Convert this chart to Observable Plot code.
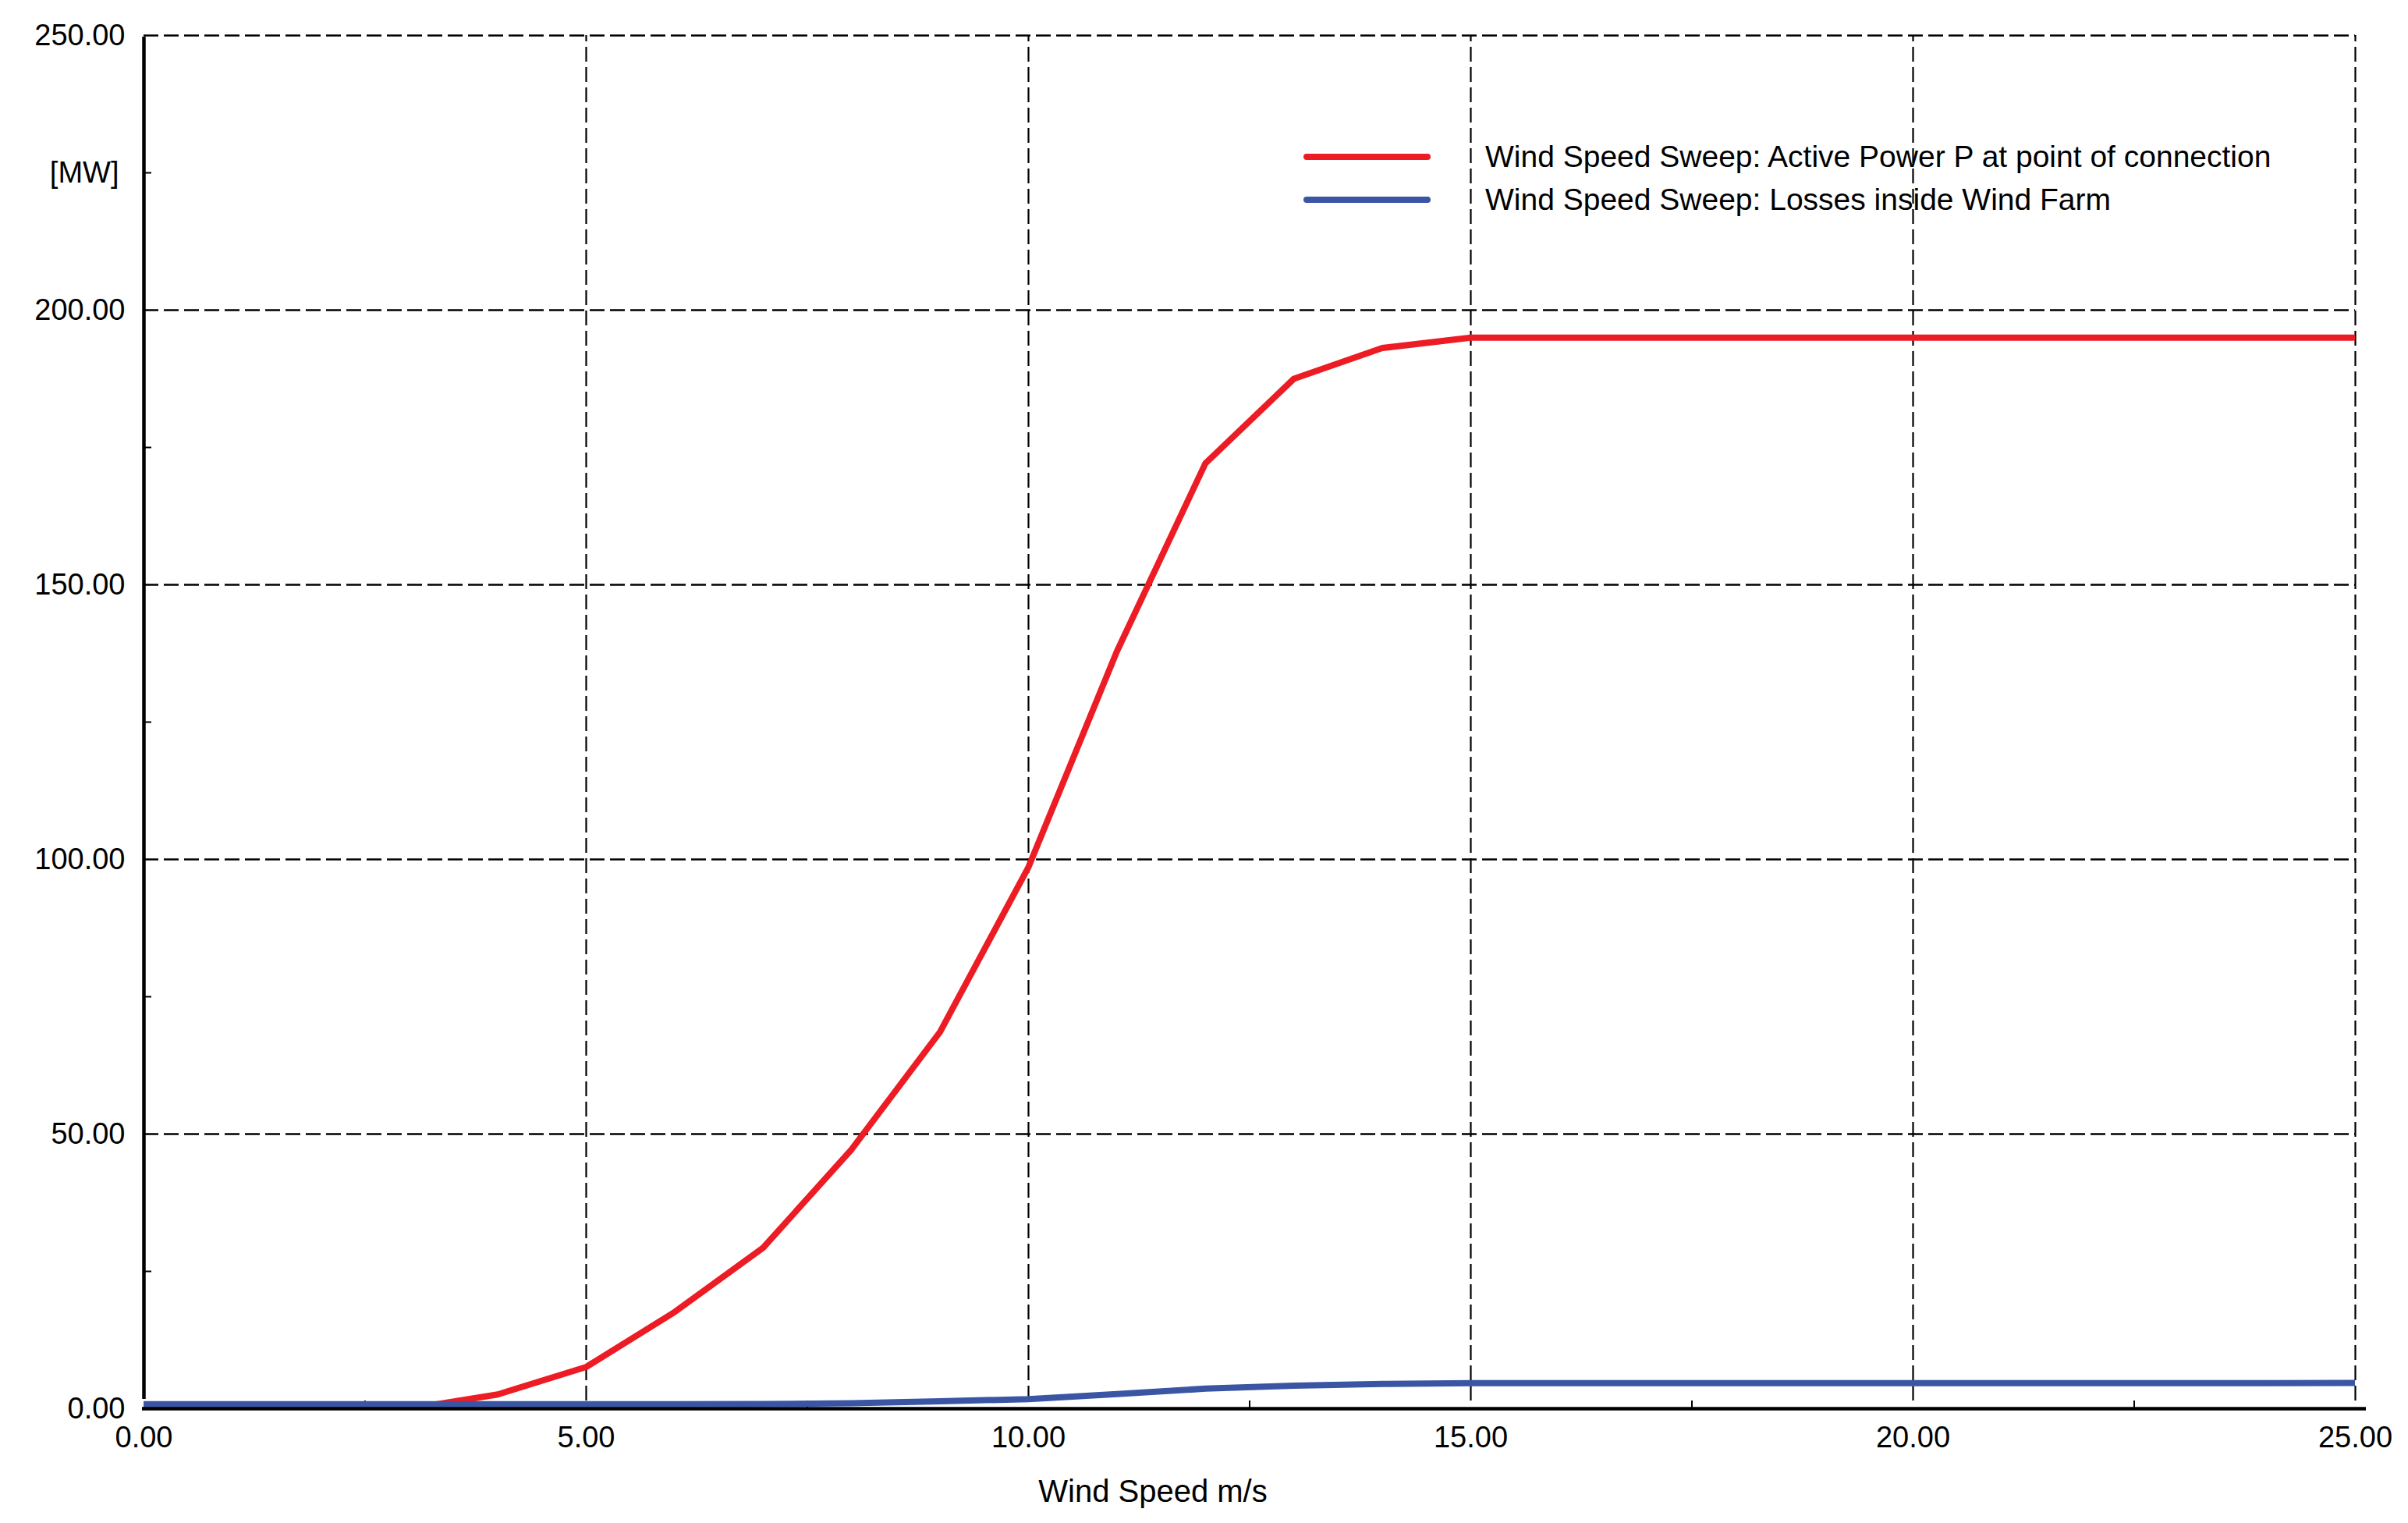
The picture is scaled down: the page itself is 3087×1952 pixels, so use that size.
<!DOCTYPE html>
<html><head><meta charset="utf-8">
<script src="https://cdn.jsdelivr.net/npm/d3@7"></script>
<script src="https://cdn.jsdelivr.net/npm/@observablehq/plot@0.6"></script>
<style>html,body{margin:0;padding:0;background:#fff}</style>
</head><body><div id="chart"></div>
<script>
// ---- data ----
const windSpeed = [0,1,2,3,4,5,6,7,8,9,10,11,12,13,14,15,16,17,18,19,20,21,22,23,24,25];
const activePower = [0,0,0,0,2.6,7.6,17.6,29.3,47.2,68.6,98.6,137.9,172.1,187.5,193.1,195.0,195.0,195.0,195.0,195.0,195.0,195.0,195.0,195.0,195.0,195.0];
const losses = [0.8,0.8,0.8,0.8,0.8,0.8,0.8,0.85,1.0,1.35,1.75,2.65,3.65,4.2,4.5,4.65,4.65,4.65,4.65,4.65,4.65,4.65,4.65,4.65,4.65,4.7];
const seriesNames = ["Wind Speed Sweep: Active Power P at point of connection", "Wind Speed Sweep: Losses inside Wind Farm"];
const seriesColors = ["#ED1C24", "#3A55A4"];
const xTicks = [0,5,10,15,20,25];
const yTicks = [0,50,100,150,200,250];
const xMinorTicks = [2.5,7.5,12.5,17.5,22.5];
const yMinorTicks = [25,75,125,175,225];
const yUnitLabel = "[MW]";
const xAxisLabel = "Wind Speed m/s";

const powerRows = windSpeed.map((v, i) => ({v, value: activePower[i]}));
const lossRows = windSpeed.map((v, i) => ({v, value: losses[i]}));

function legendMark(index, scales, values, dims) {
  const g = d3.create("svg:g")
    .attr("font-family", "Liberation Sans, Arial, sans-serif")
    .attr("text-anchor", "start");
  const x0 = dims.marginLeft + 1491;
  seriesNames.forEach((name, i) => {
    const y = dims.marginTop + 156 + i * 55;
    g.append("line").attr("x1", x0).attr("x2", x0 + 155).attr("y1", y).attr("y2", y)
      .attr("stroke", seriesColors[i]).attr("stroke-width", 8).attr("stroke-linecap", "round");
    g.append("text").attr("x", x0 + 229).attr("y", y + 13).attr("font-size", 39)
      .attr("text-anchor", "start").attr("fill", "#000").text(name);
  });
  return g.node();
}

const fmt = d => d.toFixed(2);

const chart = Plot.plot({
  width: 3087,
  height: 1952,
  marginLeft: 184,
  marginRight: 68,
  marginTop: 45,
  marginBottom: 147,
  x: {domain: [0, 25]},
  y: {domain: [0, 250]},
  style: {fontFamily: "Liberation Sans, Arial, sans-serif", fontSize: "38px", color: "#000", background: "#fff"},
  marks: [
    Plot.ruleY(yTicks.slice(1), {x1: 0, x2: 25, stroke: "#000", strokeWidth: 2.5, strokeDasharray: "19,7"}),
    Plot.ruleX(xTicks.slice(1), {y1: 0, y2: 250, insetTop: -10, stroke: "#000", strokeWidth: 2.2, strokeDasharray: "19,7"}),
    Plot.ruleX(xMinorTicks, {y1: 0, y2: 0, insetTop: -10, stroke: "#000", strokeWidth: 2}),
    Plot.ruleY(yMinorTicks, {x1: 0, x2: 0, insetRight: -10, stroke: "#000", strokeWidth: 2}),
    Plot.line(powerRows, {x: "v", y: "value", stroke: seriesColors[0], strokeWidth: 8, clip: true}),
    Plot.line(lossRows, {x: "v", y: "value", stroke: seriesColors[1], strokeWidth: 8, clip: true}),
    Plot.ruleX([0], {y1: 0, y2: 250, insetTop: -12, insetBottom: -2, stroke: "#000", strokeWidth: 4.5}),
    Plot.ruleY([0], {x1: 0, x2: 25, insetRight: -14, insetLeft: -2, stroke: "#000", strokeWidth: 4.5}),
    Plot.axisX({ticks: xTicks, tickFormat: fmt, tickSize: 0, tickPadding: 23, label: null}),
    Plot.axisY({ticks: yTicks, tickFormat: fmt, tickSize: 0, tickPadding: 24, label: null}),
    Plot.text([yUnitLabel], {x: 0, y: 225, dx: -32, textAnchor: "end", fontSize: 38}),
    Plot.text([xAxisLabel], {frameAnchor: "bottom", dx: -124, dy: 119, lineAnchor: "bottom", fontSize: 40}),
    legendMark
  ]
});
document.getElementById("chart").appendChild(chart);
</script>
</body></html>
